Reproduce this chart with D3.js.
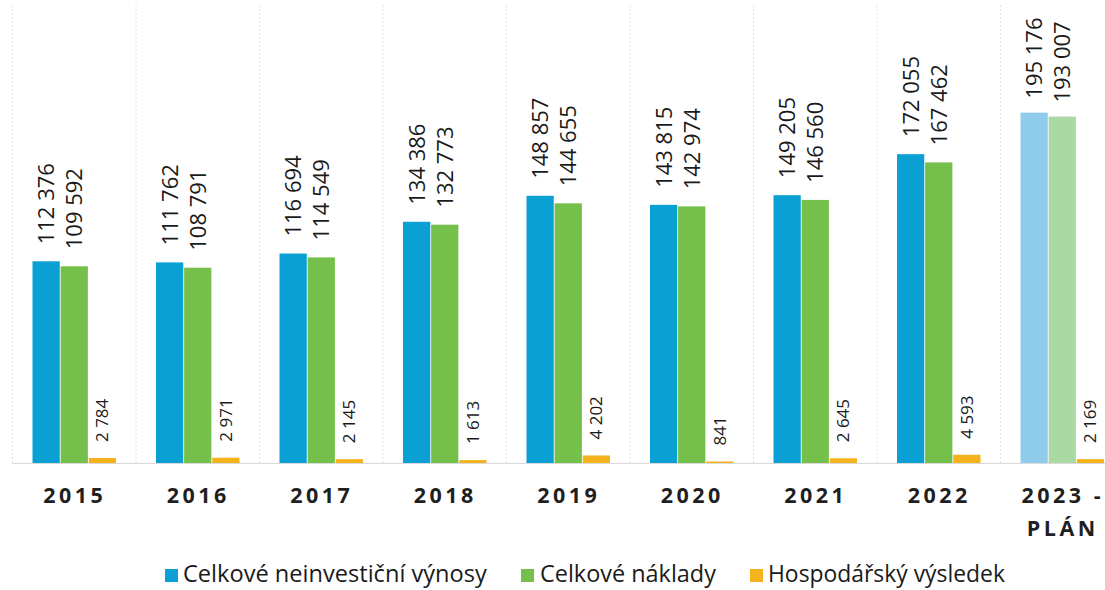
<!DOCTYPE html>
<html><head><meta charset="utf-8">
<script src="https://cdn.jsdelivr.net/npm/d3@7"></script>
<style>
html,body{margin:0;padding:0;background:#fff;}
svg{display:block;font-family:"Open Sans",sans-serif;}
</style></head>
<body>
<svg id="c" width="1105" height="590"></svg>
<script>
const categories = ["2015","2016","2017","2018","2019","2020","2021","2022","2023 - PLÁN"];
const seriesNames = ["Celkové neinvestiční výnosy","Celkové náklady","Hospodářský výsledek"];
const vynosy  = [112376,111762,116694,134386,148857,143815,149205,172055,195176];
const naklady = [109592,108791,114549,132773,144655,142974,146560,167462,193007];
const vysledek= [2784,2971,2145,1613,4202,841,2645,4593,2169];
const seriesValues = [vynosy, naklady, vysledek];

const colors = ["#0ba0d3","#74c04b","#f4b31c"];
const fadedColors = ["#8fcbea","#abd9a3","#f4b31c"];

const svg = d3.select("#c");
const baseY = 463;
const x = d3.scaleBand().domain(categories).range([12, 12 + 9*123.5]).padding(0);
const xs = d3.scaleBand().domain(d3.range(3)).range([20.5, 104]).paddingInner(0.03);
const y = d3.scaleLinear().domain([0, 200000]).range([baseY, baseY - 359]);

const fmt = v => d3.format(",")(v).replace(/,/g, " ");

// separators
svg.append("g").selectAll("line").data(d3.range(categories.length)).join("line")
  .attr("x1", i => x(categories[i]) + 0.5).attr("x2", i => x(categories[i]) + 0.5)
  .attr("y1", 5).attr("y2", baseY)
  .attr("stroke", "#e2e2e2").attr("stroke-width", 1).attr("stroke-dasharray", "2,2");
// baseline
svg.append("line").attr("x1", 12).attr("x2", 1105).attr("y1", baseY + 0.5).attr("y2", baseY + 0.5)
  .attr("stroke", "#d9d9d9");

const groups = svg.append("g").selectAll("g").data(categories).join("g")
  .attr("transform", d => `translate(${x(d)},0)`);

groups.each(function(cat, ci) {
  const g = d3.select(this);
  const last = ci === categories.length - 1;
  seriesValues.forEach((arr, si) => {
    const v = arr[ci];
    const bx = xs(si), bw = xs.bandwidth();
    g.append("rect").attr("x", bx).attr("width", bw)
      .attr("y", y(v)).attr("height", baseY - y(v))
      .attr("fill", last ? fadedColors[si] : colors[si]);
    const small = si === 2;
    g.append("text")
      .attr("transform", `translate(${bx + bw/2},${y(v) - (small ? 16 : (last ? 14 : 17))}) rotate(-90)`)
      .attr("dy", "0.36em")
      .attr("text-anchor", "start")
      .attr("font-size", small ? 17 : 22)
      .attr("fill", "#1a1a1a")
      .text(fmt(v));
  });
});

// category labels
groups.each(function(cat) {
  const g = d3.select(this);
  const parts = cat.includes(" - ") ? [cat.split(" - ")[0] + " -", cat.split(" - ")[1]] : [cat];
  parts.forEach((p, i) => {
    g.append("text")
      .attr("x", x.bandwidth()/2 + 1)
      .attr("y", 503 + i*33)
      .attr("text-anchor", "middle")
      .attr("font-size", 21.5).attr("font-weight", 700)
      .attr("letter-spacing", 3.5)
      .attr("fill", "#1f1f1f")
      .text(p);
  });
});

// legend
const legendPos = [{sq:165, tx:183, w:304}, {sq:521, tx:540, w:176}, {sq:750, tx:768, w:237}];
const lg = svg.append("g");
seriesNames.forEach((n, i) => {
  const p = legendPos[i];
  lg.append("rect").attr("x", p.sq).attr("y", 569).attr("width", 13).attr("height", 13).attr("fill", colors[i]);
  const t = lg.append("text").attr("x", p.tx).attr("y", 582)
    .attr("font-size", 20).attr("fill", "#1a1a1a").text(n);
  const len = t.node().getComputedTextLength();
  t.attr("font-size", 20 * p.w / len);
});
</script>
</body></html>
